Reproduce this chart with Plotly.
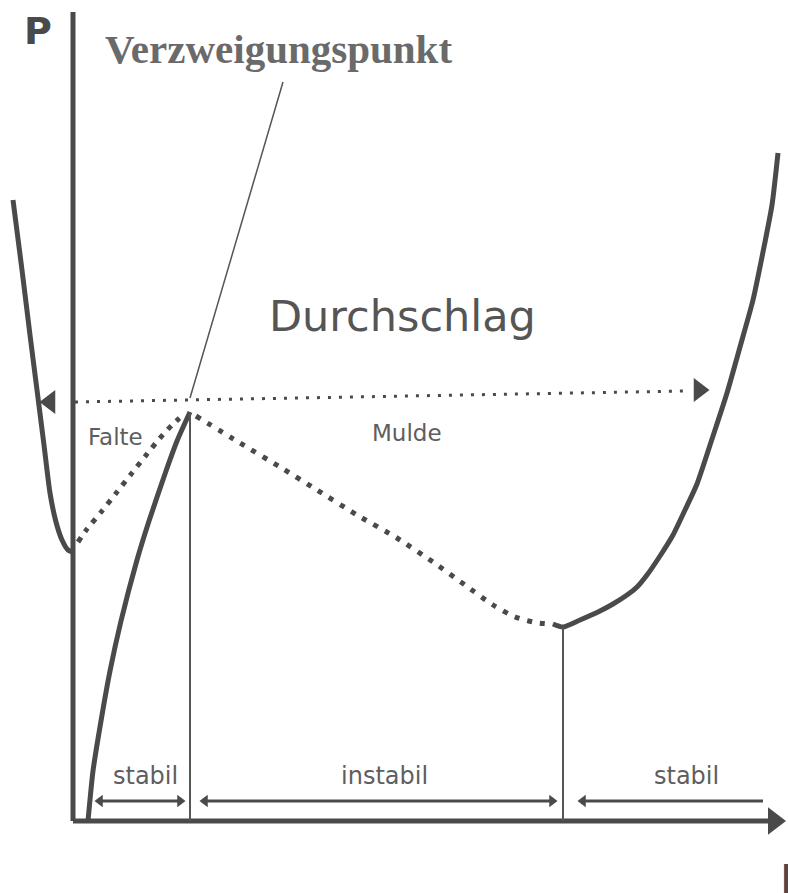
import plotly.graph_objects as go

# ---- data (L = deformation, P = load) ----
# left stable branch (Falte)
falte_L = [-0.60, -0.51, -0.43, -0.36, -0.29, -0.23, -0.17, -0.11, -0.05, 0.00]
falte_P = [6.21, 5.51, 4.86, 4.31, 3.76, 3.28, 2.99, 2.81, 2.71, 2.69]
# unstable dotted branch of the Falte
falte_dot_L = [0.05, 0.14, 0.29, 0.44, 0.59, 0.74, 0.87, 0.99, 1.11]
falte_dot_P = [2.79, 2.92, 3.10, 3.29, 3.48, 3.67, 3.83, 3.96, 4.07]
# primary rising path up to the bifurcation point
rise_L = [0.15, 0.20, 0.28, 0.37, 0.48, 0.64, 0.76, 0.93, 1.04, 1.17]
rise_P = [0.00, 0.50, 1.00, 1.50, 2.00, 2.61, 3.00, 3.50, 3.80, 4.09]
# unstable descending dotted branch (Mulde)
mulde_dot_L = [1.23, 1.67, 2.07, 2.44, 2.84, 3.24, 3.60, 3.92, 4.20, 4.42, 4.65, 4.80]
mulde_dot_P = [4.05, 3.78, 3.54, 3.31, 3.06, 2.83, 2.59, 2.36, 2.16, 2.04, 1.98, 1.97]
# right stable branch
right_L = [4.80, 4.90, 5.07, 5.27, 5.40, 5.54, 5.64, 5.74, 5.87, 6.00, 6.12, 6.24,
           6.40, 6.54, 6.67, 6.80, 6.90, 6.99, 7.05]
right_P = [1.97, 1.94, 2.01, 2.10, 2.17, 2.26, 2.34, 2.46, 2.65, 2.86, 3.11, 3.37,
           3.85, 4.28, 4.74, 5.21, 5.69, 6.16, 6.68]

# snap-through line (Durchschlag)
snap_L = [0.02, 6.13]
snap_P = [4.19, 4.30]
snap_head_L = [-0.23, 6.26]
snap_head_P = [4.19, 4.31]

# vertical separators
bif_L = 1.17
bif_P = 4.09
min_L = 4.90
min_P = 1.94

# leader line to "Verzweigungspunkt"
leader_L = [2.10, 1.17]
leader_P = [7.39, 4.23]

# range arrows at the bottom
arrow_P = 0.20
range_L = [[0.27, 1.07], [1.32, 4.79], [5.10, 6.90]]
range_heads = [["triangle-left", "triangle-right"],
               ["triangle-left", "triangle-right"],
               ["triangle-left", None]]
range_labels = ["stabil", "instabil", "stabil"]
range_label_L = [0.72, 3.11, 6.13]
range_label_P = 0.45

# axes
yaxis_top = 8.09
xaxis_end = 6.99
xhead_L = 7.01

LINE = "#4a4a4a"
TEXT = "#5e5e5e"

fig = go.Figure()

def add_line(x, y, width=5, dash="solid", color=LINE, shape="spline", smoothing=0.6):
    fig.add_trace(go.Scatter(x=x, y=y, mode="lines",
                             line=dict(color=color, width=width, dash=dash, shape=shape,
                                       smoothing=smoothing),
                             hoverinfo="skip", showlegend=False))

# axes
add_line([0, 0], [0, yaxis_top], width=5, shape="linear")
add_line([0, xaxis_end], [0, 0], width=5, shape="linear")
fig.add_trace(go.Scatter(x=[xhead_L], y=[0], mode="markers",
                         marker=dict(symbol="triangle-right", size=24, color=LINE),
                         hoverinfo="skip", showlegend=False))

# curves
add_line(falte_L, falte_P, width=5)
add_line(falte_dot_L, falte_dot_P, width=5, dash="5px,7px")
add_line(rise_L, rise_P, width=5)
add_line(mulde_dot_L, mulde_dot_P, width=5, dash="5px,8px")
add_line(right_L, right_P, width=5)

# verticals
add_line([bif_L, bif_L], [0, bif_P], width=2, shape="linear", color="#555555")
add_line([min_L, min_L], [0, min_P], width=2, shape="linear", color="#555555")

# snap-through dotted line with arrowheads
add_line(snap_L, snap_P, width=3, dash="3px,8px", shape="linear")
fig.add_trace(go.Scatter(x=snap_head_L, y=snap_head_P, mode="markers",
                         marker=dict(symbol=["triangle-left", "triangle-right"], size=21, color=LINE),
                         hoverinfo="skip", showlegend=False))

# leader line
add_line(leader_L, leader_P, width=1.5, shape="linear", color="#555555")

# bottom range arrows
for (a, b), heads in zip(range_L, range_heads):
    add_line([a, b], [arrow_P, arrow_P], width=3, shape="linear")
    hx, hs = [], []
    if heads[0]:
        hx.append(a); hs.append(heads[0])
    if heads[1]:
        hx.append(b); hs.append(heads[1])
    fig.add_trace(go.Scatter(x=hx, y=[arrow_P] * len(hx), mode="markers",
                             marker=dict(symbol=hs, size=11, color=LINE),
                             hoverinfo="skip", showlegend=False))

ann = []
def label(text, x, y, size, family="DejaVu Sans", color=TEXT, xanchor="center", yanchor="middle"):
    ann.append(dict(text=text, x=x, y=y, xref="x", yref="y", showarrow=False,
                    font=dict(family=family, size=size, color=color),
                    xanchor=xanchor, yanchor=yanchor))

label("<b>P</b>", -0.35, 7.90, 38, color="#4a4a4a")
label("<b>Verzweigungspunkt</b>", 0.30, 7.72, 41, family="Liberation Serif", color="#6a6a6a",
      xanchor="left")
label("Durchschlag", 3.29, 5.05, 43, color="#555555")
label("Falte", 0.42, 3.84, 23)
label("Mulde", 3.34, 3.88, 23)
for t, lx in zip(range_labels, range_label_L):
    label(t, lx, range_label_P, 24)
# axis label L, partly outside the frame as in the reference
label("<b>L</b>", 7.05, -0.33, 44, color="#4a4a4a", xanchor="left", yanchor="top")

# ranges set so that 1 unit = 100 px and the origin sits where the reference has it
fig.update_layout(
    width=788, height=893,
    margin=dict(l=0, r=0, t=0, b=0),
    paper_bgcolor="white", plot_bgcolor="white",
    xaxis=dict(range=[-0.73, 7.15], visible=False, fixedrange=True),
    yaxis=dict(range=[-0.72, 8.21], visible=False, fixedrange=True),
    annotations=ann,
    showlegend=False,
    hovermode=False,
)

fig.write_html("out.html",
               config={"displayModeBar": False, "staticPlot": True},
               post_script="document.body.style.margin='0';document.body.style.overflow='hidden';")
